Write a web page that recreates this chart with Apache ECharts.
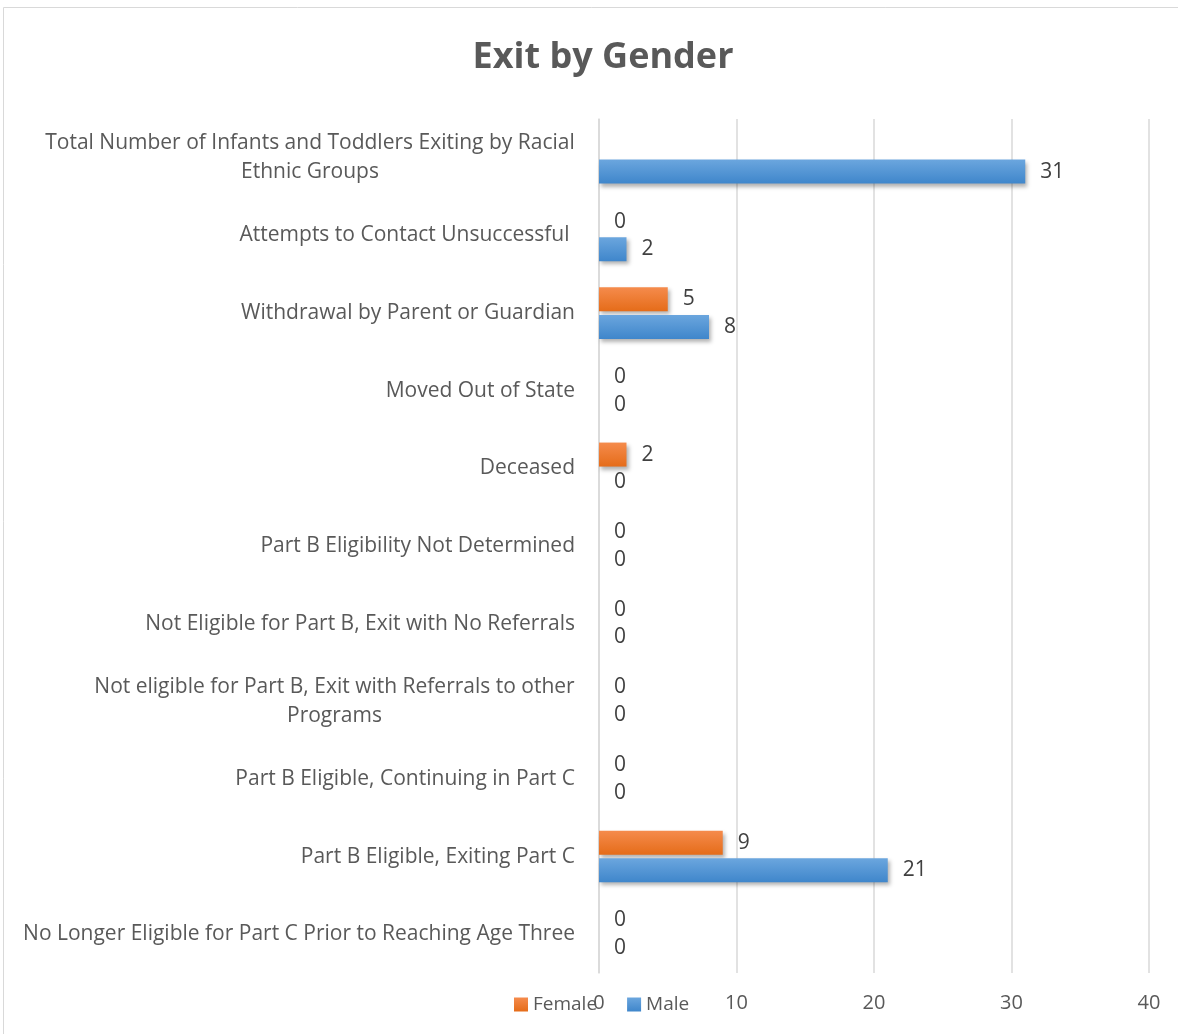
<!DOCTYPE html>
<html>
<head>
<meta charset="utf-8">
<script src="https://cdn.jsdelivr.net/npm/echarts@6/dist/echarts.min.js"></script>
<style>
html,body{margin:0;padding:0;background:#fff;}
#chart{width:1178px;height:1034px;}
</style>
</head>
<body>
<div id="chart"></div>
<script>
const categories = [
  'No Longer Eligible for Part C Prior to Reaching Age Three',
  'Part B Eligible, Exiting Part C',
  'Part B Eligible, Continuing in Part C',
  'Not eligible for Part B, Exit with Referrals to other\nPrograms',
  'Not Eligible for Part B, Exit with No Referrals',
  'Part B Eligibility Not Determined',
  'Deceased',
  'Moved Out of State',
  'Withdrawal by Parent or Guardian',
  'Attempts to Contact Unsuccessful ',
  'Total Number of Infants and Toddlers Exiting by Racial\nEthnic Groups'
];
const femaleValues = [0, 9, 0, 0, 0, 0, 2, 0, 5, 0, null];
const maleValues = [0, 21, 0, 0, 0, 0, 0, 0, 8, 2, 31];
const xTicks = [0, 10, 20, 30, 40];

const FONT = 'Open Sans';
const LABEL_SIZE = 21;
const cv = document.createElement('canvas').getContext('2d');
cv.font = LABEL_SIZE + 'px ' + FONT;
function tw(s){ return Math.ceil(cv.measureText(s).width); }

const richStyles = {};
categories.forEach(function(c){
  if (c.indexOf('\n') >= 0){
    const w = Math.max.apply(null, c.split('\n').map(tw));
    richStyles['c' + w] = {width:w, align:'center', fontSize:LABEL_SIZE, color:'#595959', fontFamily:FONT, lineHeight:29};
  }
});

const chart = echarts.init(document.getElementById('chart'));

function grad(top, bottom){
  return new echarts.graphic.LinearGradient(0,0,0,1,[{offset:0,color:top},{offset:1,color:bottom}]);
}
const labelStyle = {show:true, position:'right', distance:15, color:'#404040', fontSize:21, fontFamily:FONT};
const shadow = {shadowBlur:4, shadowOffsetX:2, shadowOffsetY:3, shadowColor:'rgba(0,0,0,0.3)'};

chart.setOption({
  animation:false,
  textStyle:{fontFamily:FONT},
  title:{
    text:'Exit by Gender', left:598, top:35, textAlign:'center',
    textStyle:{fontSize:36, fontWeight:'bold', color:'#595959', fontFamily:FONT}
  },
  graphic:[{type:'rect', shape:{x:3.5,y:7.5,width:1190,height:1040}, style:{fill:'none', stroke:'#d9d9d9', lineWidth:1}, silent:true}],
  legend:{
    data:['Female','Male'], left:509, top:990, itemWidth:14, itemHeight:14, itemGap:30,
    icon:'rect', textStyle:{fontSize:19, color:'#595959', fontFamily:FONT}
  },
  grid:{left:599, right:29, top:119, bottom:61},
  xAxis:{
    type:'value', min:0, max:40, interval:10,
    axisLine:{show:false},
    axisTick:{show:false},
    splitLine:{show:true, lineStyle:{color:'#d9d9d9', width:1.5}},
    axisLabel:{margin:20, fontSize:20, color:'#595959', fontFamily:FONT,
      formatter:function(v){ return xTicks.indexOf(v) >= 0 ? String(v) : ''; }}
  },
  yAxis:{
    type:'category', data:categories,
    axisLine:{show:true, lineStyle:{color:'#d9d9d9', width:1.5}},
    axisTick:{show:false},
    axisLabel:{
      margin:24, fontSize:LABEL_SIZE, color:'#595959', fontFamily:FONT, lineHeight:29,
      formatter:function(v){
        if (v.indexOf('\n') < 0) return v;
        const lines = v.split('\n');
        const w = Math.max.apply(null, lines.map(tw));
        return lines.map(function(l){ return '{c' + w + '|' + l + '}'; }).join('\n');
      },
      rich:richStyles
    }
  },
  series:[
    {name:'Female', type:'bar', data:femaleValues, barWidth:24, barGap:'15%',
      itemStyle:Object.assign({color:grad('#f58b4c','#e56c19')}, shadow), label:labelStyle},
    {name:'Male', type:'bar', data:maleValues, barWidth:24, barGap:'15%',
      itemStyle:Object.assign({color:grad('#6ba6de','#3f86cb')}, shadow), label:labelStyle}
  ]
});
</script>
</body>
</html>
